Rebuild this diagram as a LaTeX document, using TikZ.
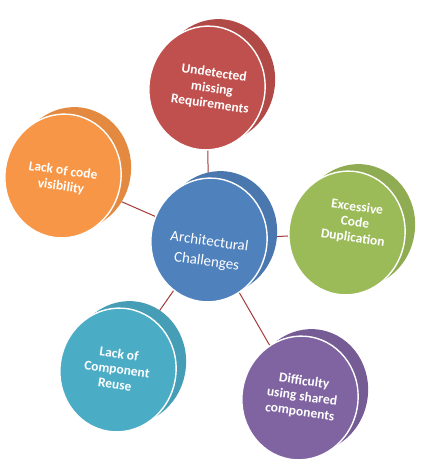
\documentclass[tikz,border=0pt]{standalone}
\usepackage{fontspec}
\setmainfont{Carlito}
\usetikzlibrary{shapes.geometric}
\definecolor{dRed}{HTML}{C0504D}
\definecolor{dOrange}{HTML}{F79646}
\definecolor{dGreen}{HTML}{9BBB59}
\definecolor{dTeal}{HTML}{4BACC6}
\definecolor{dPurple}{HTML}{8064A2}
\definecolor{dBlue}{HTML}{4F81BD}
\definecolor{connRed}{HTML}{A33B3B}
\tikzset{
  face/.style={ellipse, minimum width=116pt, minimum height=124pt, inner sep=0pt, fill=#1, rotate=-10},
  backface/.style={face=#1!92!black},
  frontface/.style={face=#1, draw=white, line width=1.4pt},
  lbl/.style={text=white, font=\bfseries\fontsize{13.5}{15.5}\selectfont, align=center, rotate=-8, inner sep=0pt},
  clbl/.style={text=white, font=\fontsize{15}{20}\selectfont, align=center, rotate=-8, inner sep=0pt},
  conn/.style={draw=connRed, line width=1pt}
}
\begin{document}
\begin{tikzpicture}[x=1pt,y=-1pt]
\path[use as bounding box, fill=white] (0,0) rectangle (428,463);
% centres
\coordinate (cB) at (209,240);
\coordinate (cR) at (207,88);
\coordinate (cO) at (63,176);
\coordinate (cG) at (347,233);
\coordinate (cT) at (118,370);
\coordinate (cP) at (300,398);
% connectors
\draw[conn] (cB) -- (cR);
\draw[conn] (cB) -- (cO);
\draw[conn] (cB) -- (cG);
\draw[conn] (cB) -- (cT);
\draw[conn] (cB) -- (cP);
% discs
\node[backface=dRed] (bR) at ([shift={(10,-7)}]cR) {};
\node[frontface=dRed] (fR) at (cR) {};
\node[backface=dOrange] (bO) at ([shift={(10,-7)}]cO) {};
\node[frontface=dOrange] (fO) at (cO) {};
\node[backface=dGreen] (bG) at ([shift={(10,-7)}]cG) {};
\node[frontface=dGreen] (fG) at (cG) {};
\node[backface=dTeal] (bT) at ([shift={(10,-7)}]cT) {};
\node[frontface=dTeal] (fT) at (cT) {};
\node[backface=dPurple] (bP) at ([shift={(10,-7)}]cP) {};
\node[frontface=dPurple] (fP) at (cP) {};
\node[backface=dBlue] (bB) at ([shift={(10,-7)}]cB) {};
\node[frontface=dBlue] (fB) at (cB) {};
% labels
\node[lbl] (tR) at (212,89) {Undetected\\missing\\Requirements};
\node[lbl] (tO) at (62,179) {Lack of code\\visibility};
\node[lbl] (tG) at (355,223) {Excessive\\Code\\Duplication};
\node[lbl] (tT) at (117,369) {Lack of\\Component\\Reuse};
\node[lbl] (tP) at (302,397) {Difficulty\\using shared\\components};
\node[clbl] (tB) at (208,252) {Architectural\\Challenges};
\end{tikzpicture}
\end{document}
